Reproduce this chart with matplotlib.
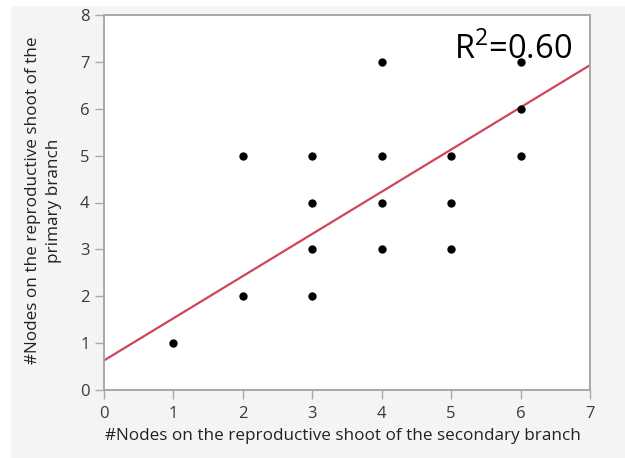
import matplotlib
matplotlib.use("Agg")
import matplotlib.pyplot as plt
from matplotlib.patches import Rectangle

plt.rcParams['font.family'] = ['Open Sans', 'DejaVu Sans']
plt.rcParams['mathtext.fontset'] = 'custom'
plt.rcParams['mathtext.rm'] = 'Open Sans'

# Data
secondary_nodes = [1, 2, 2, 3, 3, 3, 3, 4, 4, 4, 4, 5, 5, 5, 6, 6, 6]
primary_nodes   = [1, 2, 5, 2, 3, 4, 5, 3, 4, 5, 7, 3, 4, 5, 5, 6, 7]
fit_intercept = 0.63
fit_slope = 0.90
fit_x = [0, 7]
r2_label = r"R$^{\mathrm{2}}$=0.60"
x_ticks = [0, 1, 2, 3, 4, 5, 6, 7]
y_ticks = [0, 1, 2, 3, 4, 5, 6, 7, 8]
xlabel = "#Nodes on the reproductive shoot of the secondary branch"
ylabel = "#Nodes on the reproductive shoot of the\nprimary branch"

W, H = 625, 458
fig = plt.figure(figsize=(W / 100, H / 100), dpi=100)
fig.patch.set_facecolor('white')
fig.patches.append(Rectangle((11 / W, 0), 1 - 11 / W, 1 - 6 / H,
                             transform=fig.transFigure, facecolor='#f4f4f4',
                             edgecolor='none', zorder=-10))

ax = fig.add_axes([104 / W, 1 - 390 / H, (590 - 104) / W, (390 - 15) / H])
ax.set_facecolor('white')

fit_y = [fit_intercept + fit_slope * x for x in fit_x]
ax.plot(fit_x, fit_y, color='#d0455a', lw=1.6, zorder=2, solid_capstyle='butt')
ax.scatter(secondary_nodes, primary_nodes, s=36, color='black', zorder=3,
           linewidths=0)

ax.set_xlim(0, 7)
ax.set_ylim(0, 8)
ax.set_xticks(x_ticks)
ax.set_yticks(y_ticks)

for sp in ax.spines.values():
    sp.set_color('#a8a8a8')
    sp.set_linewidth(1.4)

ax.tick_params(axis='both', direction='out', length=6.5, width=1.0,
               color='#a8a8a8', labelsize=12, labelcolor='#3a3a3a')
ax.tick_params(axis='y', pad=4)
ax.tick_params(axis='x', pad=5)

ax.set_xlabel(xlabel, fontsize=12.3, color='#222222')
ax.xaxis.set_label_coords(0.492, -0.102)
ax.set_ylabel(ylabel, fontsize=12.3, color='#222222', linespacing=1.45)
ax.yaxis.set_label_coords(-0.086, 0.505)

ax.text(0.963, 0.883, r2_label, transform=ax.transAxes, ha='right',
        va='baseline', fontsize=23.5, color='black', zorder=5)

fig.savefig('out.png', dpi=100, facecolor=fig.get_facecolor())
